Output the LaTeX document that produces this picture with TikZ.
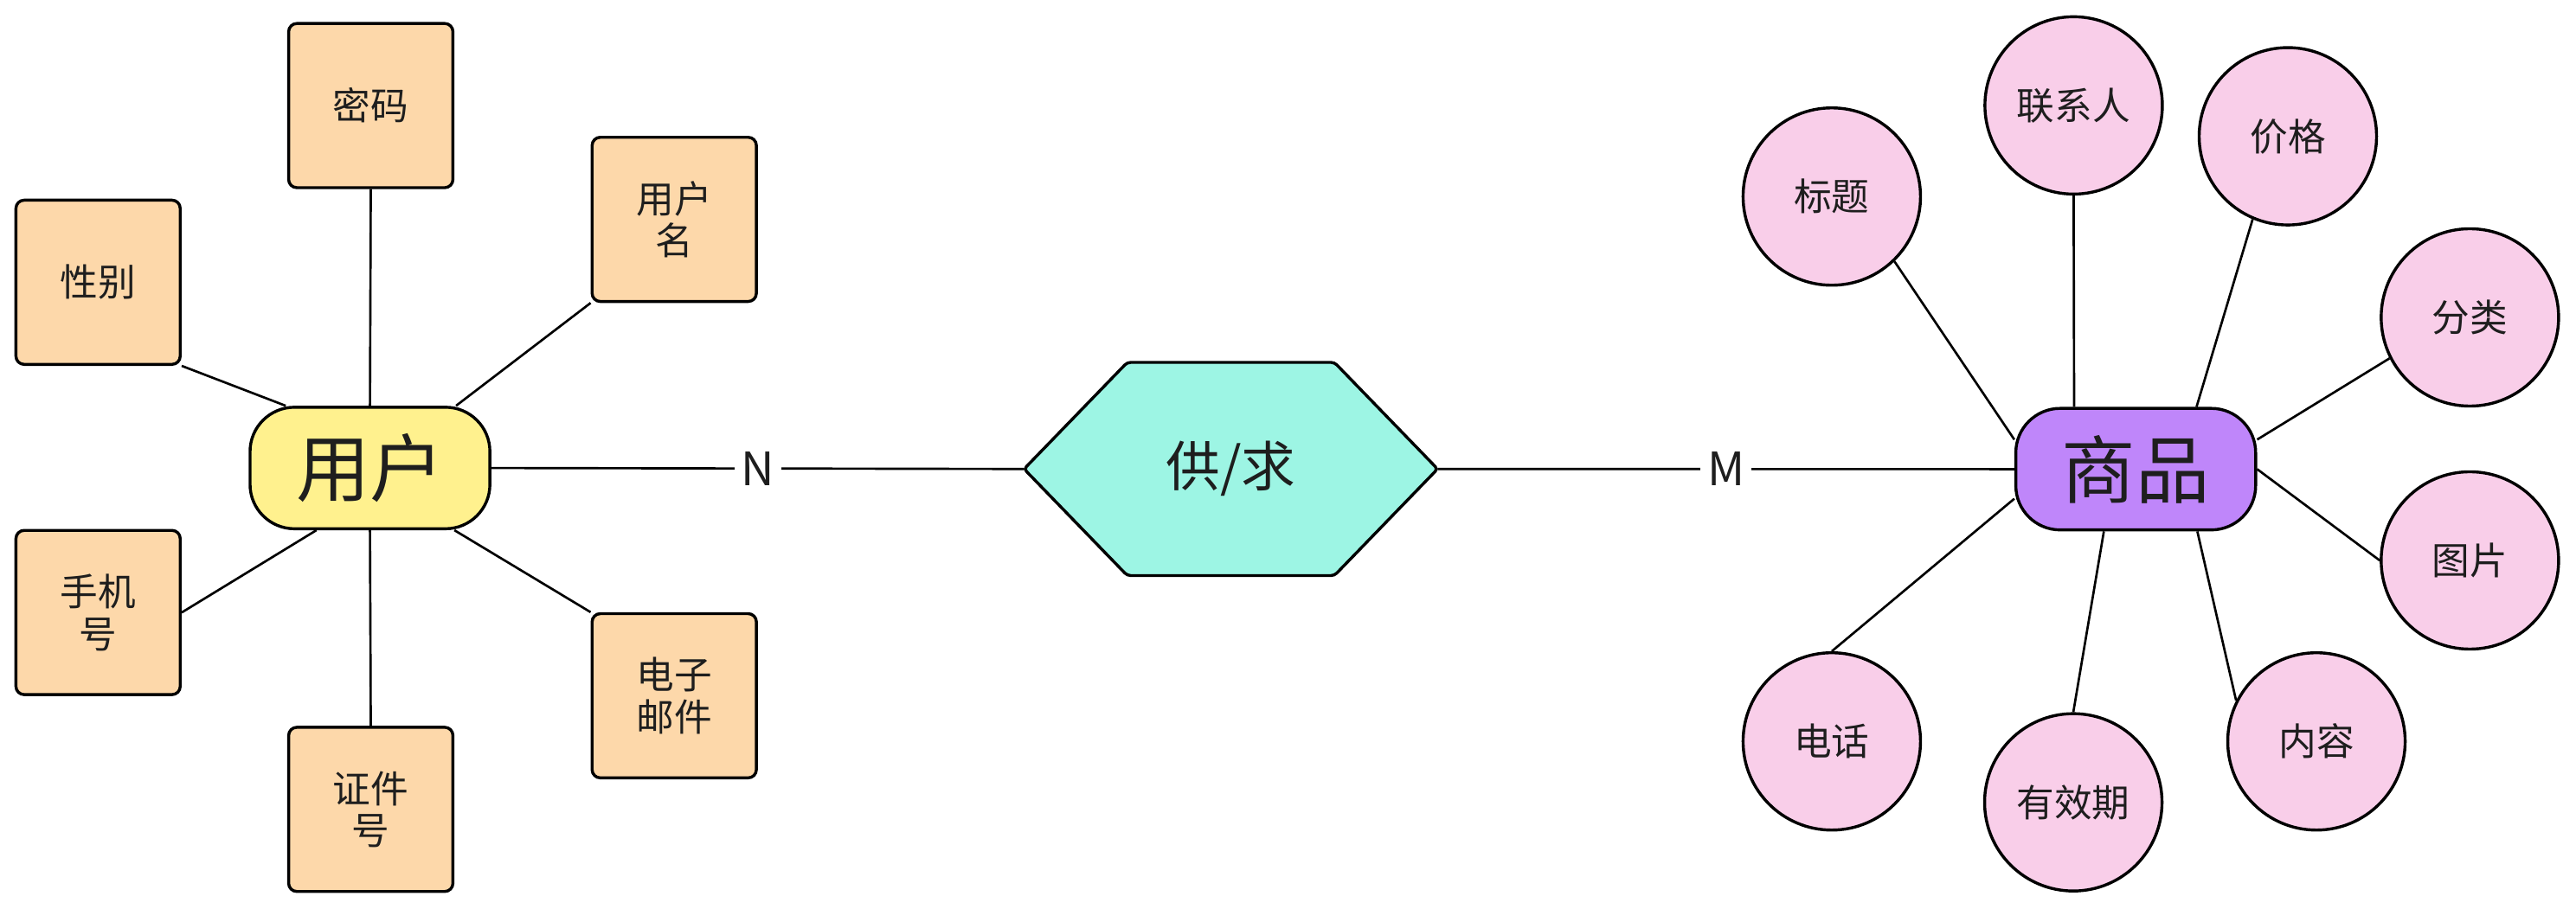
\documentclass[tikz,border=0pt]{standalone}
\usepackage{fontspec}
\setmainfont{Noto Sans CJK SC}
\usetikzlibrary{backgrounds}
\definecolor{peach}{RGB}{253,216,170}
\definecolor{ylw}{RGB}{255,241,142}
\definecolor{mint}{RGB}{157,245,228}
\definecolor{purp}{RGB}{191,134,250}
\definecolor{pinkc}{RGB}{249,206,233}
\definecolor{txt}{RGB}{30,30,30}
\begin{document}
\begin{tikzpicture}[x=1pt,y=-1pt,
  attr/.style={draw=black, line width=1.8pt, fill=peach, rounded corners=5pt,
    minimum width=100pt, minimum height=100pt, inner sep=0pt, align=center,
    text=txt, font=\fontsize{23}{25.5}\selectfont},
  ent/.style={draw=black, line width=1.8pt, rounded corners=27pt,
    minimum width=146pt, minimum height=74pt, inner sep=0pt, text=txt,
    font=\fontsize{45}{48}\selectfont},
  ell/.style={circle, draw=black, line width=1.8pt, fill=pinkc, minimum size=108pt,
    inner sep=0pt, text=txt, font=\fontsize{23}{25.5}\selectfont},
  conn/.style={draw=black, line width=1.4pt},
  card/.style={fill=white, inner sep=4pt, text=txt, font=\fontsize{28}{30}\selectfont}]

\useasboundingbox (0,0) rectangle (1568,553.05);

% left entity and attributes
\node[ent, fill=ylw] (yh) at (225.2,285) {用户};
\node[attr] (mm) at (225.7,64.3) {密码};
\node[attr] (ym) at (410.4,133.6) {用户\\名};
\node[attr] (xb) at (59.7,171.9) {性别};
\node[attr] (sj) at (59.7,373) {手机\\号};
\node[attr] (zj) at (225.7,492.9) {证件\\号};
\node[attr] (dz) at (410.4,423.7) {电子\\邮件};

% relationship
\node[minimum width=251.3pt, minimum height=129.4pt, inner sep=0pt] (gq) at (749.2,285.6) {};
\draw[line width=1.8pt, fill=mint, rounded corners=2pt]
  (gq.west) -- ([xshift=62.8pt]gq.north west) -- ([xshift=-62.8pt]gq.north east)
  -- (gq.east) -- ([xshift=-62.8pt]gq.south east) -- ([xshift=62.8pt]gq.south west) -- cycle;
\node[text=txt, font=\fontsize{33}{36}\selectfont] (gqt) at (gq) {供/求};

% right entity and attributes
\node[ent, fill=purp] (sp) at (1300,285.7) {商品};
\node[ell] (bt) at (1115,119.7) {标题};
\node[ell] (lx) at (1262.2,64.2) {联系人};
\node[ell] (jg) at (1392.6,83) {价格};
\node[ell] (fl) at (1503.4,193.3) {分类};
\node[ell] (tp) at (1503.4,341.3) {图片};
\node[ell] (nr) at (1410,451.5) {内容};
\node[ell] (yx) at (1262,488.6) {有效期};
\node[ell] (dh) at (1115,451.5) {电话};

\begin{scope}[on background layer]
\fill[white] (0,0) rectangle (1568,553.05);
% left connectors
\draw[conn] (mm.south) -- (yh.north);
\draw[conn] (ym.south west) -- ([xshift=52.4pt]yh.north);
\draw[conn] (xb.south east) -- ([xshift=-51.3pt]yh.north);
\draw[conn] (sj.east) -- ([xshift=-32.6pt]yh.south);
\draw[conn] (zj.north) -- (yh.south);
\draw[conn] (dz.north west) -- ([xshift=51.4pt]yh.south);
% main line
\draw[conn] (yh.east) -- node[card] (nlab) {N} (gq.west);
\draw[conn] (gq.east) -- node[card] (mlab) {M} (sp.west);
% right connectors
\draw[conn] (bt.-46) -- ([yshift=18pt]sp.west);
\draw[conn] (lx.south) -- ([xshift=-37.5pt]sp.north);
\draw[conn] (jg.-113) -- ([xshift=37pt]sp.north);
\draw[conn] (fl.-153) -- ([yshift=18pt]sp.east);
\draw[conn] (tp.west) -- (sp.east);
\draw[conn] (nr.153) -- ([xshift=37.5pt]sp.south);
\draw[conn] (yx.north) -- ([xshift=-19.4pt]sp.south);
\draw[conn] (dh.north) -- ([yshift=-18pt]sp.west);
\end{scope}
\end{tikzpicture}
\end{document}
